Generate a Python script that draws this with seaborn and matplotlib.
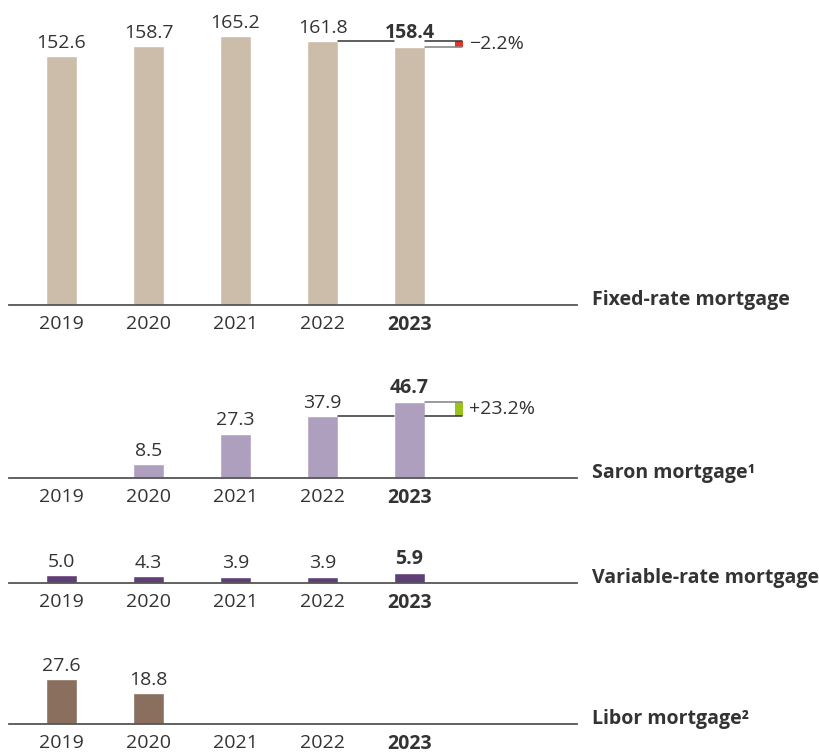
import matplotlib
matplotlib.use("Agg")
import matplotlib.pyplot as plt
import pandas as pd
import seaborn as sns

sns.set_theme(style="white")
plt.rcParams["font.family"] = ["Open Sans", "DejaVu Sans"]

YEARS = ["2019", "2020", "2021", "2022", "2023"]

FIXED_YEARS = ["2019", "2020", "2021", "2022", "2023"]
FIXED_VALUES = [152.6, 158.7, 165.2, 161.8, 158.4]
SARON_YEARS = ["2020", "2021", "2022", "2023"]
SARON_VALUES = [8.5, 27.3, 37.9, 46.7]
VARIABLE_YEARS = ["2019", "2020", "2021", "2022", "2023"]
VARIABLE_VALUES = [5.0, 4.3, 3.9, 3.9, 5.9]
LIBOR_YEARS = ["2019", "2020"]
LIBOR_VALUES = [27.6, 18.8]

FIXED_CHANGE = "\u22122.2%"
SARON_CHANGE = "+23.2%"

TEXT = "#333333"
W, H = 819, 756
S = 1.63            # pixels per unit, shared by all panels
BAR_W = 0.356
X0, X1 = 9, 577     # pixel extent of the baselines
C0, STEP = 61.5, 87  # first bar centre and spacing in pixels
FS = 14


def panel(fig, base, span, years, values, color, label):
    ax = fig.add_axes([X0 / W, (H - base) / H, (X1 - X0) / W, span / H])
    df = pd.DataFrame({"year": years, "value": values})
    sns.barplot(data=df, x="year", y="value", order=YEARS, color=color,
                saturation=1, width=BAR_W, ax=ax)
    ax.set_xlim((X0 - C0) / STEP, (X1 - C0) / STEP)
    ax.set_ylim(0, span / S)
    for side in ["top", "left", "right"]:
        ax.spines[side].set_visible(False)
    ax.spines["bottom"].set_color("#555555")
    ax.spines["bottom"].set_linewidth(1.3)
    ax.set_xlabel("")
    ax.set_ylabel("")
    ax.set_yticks([])
    ax.set_xticks(range(len(YEARS)))
    ax.set_xticklabels(YEARS)
    ax.tick_params(axis="x", length=0, pad=7, labelsize=FS, labelcolor=TEXT)
    ax.get_xticklabels()[-1].set_fontweight("bold")

    texts = ax.bar_label(ax.containers[0], fmt="%.1f", padding=3,
                         fontsize=FS, color=TEXT)
    if years[-1] == "2023":
        texts[-1].set_fontweight("bold")

    ax.text(1 + (592 - X1) / (X1 - X0), 0, label, transform=ax.transAxes,
            ha="left", va="baseline", fontsize=FS, fontweight="bold",
            color=TEXT, clip_on=False)
    return ax


def change_marker(ax, prev, cur, text, color):
    half = BAR_W / 2
    right = (462 - C0) / STEP
    ax.plot([3 + half, 4 - half], [prev, prev], color=TEXT, lw=1.1,
            clip_on=False)
    ax.plot([4 + half, right], [prev, prev], color=TEXT, lw=1.1,
            clip_on=False)
    ax.plot([4 + half, right], [cur, cur], color="#808080", lw=1.1,
            clip_on=False)
    ax.fill_between([(455 - C0) / STEP, (463 - C0) / STEP], prev, cur,
                    color=color, lw=0, clip_on=False)
    ax.text((469 - C0) / STEP, (prev + cur) / 2, text, ha="left",
            va="center", fontsize=FS, color=TEXT, clip_on=False)


fig = plt.figure(figsize=(W / 100, H / 100), dpi=100)

ax1 = panel(fig, 305, 305, FIXED_YEARS, FIXED_VALUES, "#ccbcaa",
            "Fixed-rate mortgage")
change_marker(ax1, FIXED_VALUES[-2], FIXED_VALUES[-1], FIXED_CHANGE,
              "#e3342b")

ax2 = panel(fig, 478, 118, SARON_YEARS, SARON_VALUES, "#af9fbe",
            "Saron mortgage\u00b9")
change_marker(ax2, SARON_VALUES[-2], SARON_VALUES[-1], SARON_CHANGE,
              "#9ac31c")

panel(fig, 583, 40, VARIABLE_YEARS, VARIABLE_VALUES, "#5f3f76",
      "Variable-rate mortgage")

panel(fig, 724, 84, LIBOR_YEARS, LIBOR_VALUES, "#8a6e5e",
      "Libor mortgage\u00b2")

fig.savefig("out.png", dpi=100)
